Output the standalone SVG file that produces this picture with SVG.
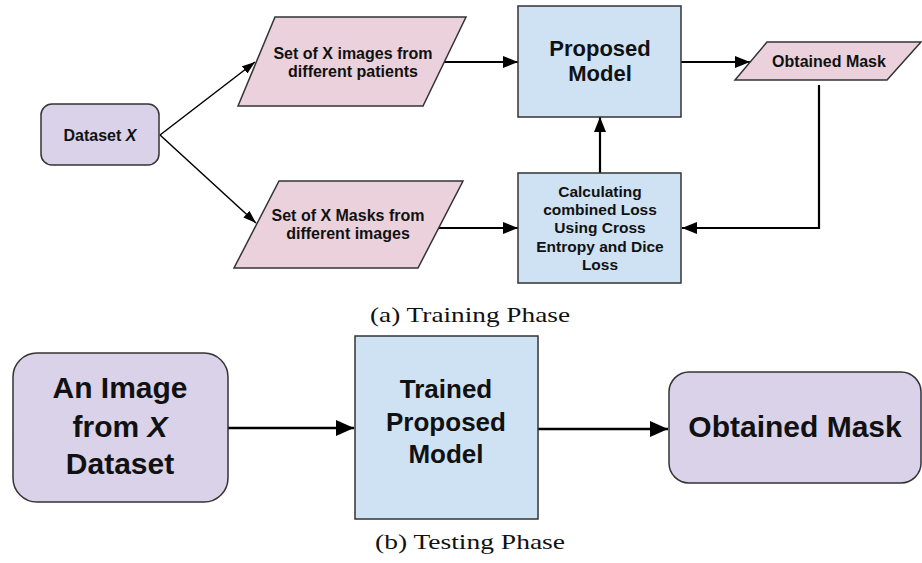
<svg xmlns="http://www.w3.org/2000/svg" width="922" height="563" viewBox="0 0 922 563">
<defs>
<style>
.pink{fill:#ead1dc;stroke:#333;stroke-width:1.5}
.purple{fill:#d9d2e9;stroke:#333;stroke-width:1.5}
.blue{fill:#cfe2f3;stroke:#333;stroke-width:1.5}
.t{font-family:"Liberation Sans",Arial,sans-serif;font-weight:bold;fill:#111;text-anchor:middle}
.cap{font-family:"Liberation Serif","Times New Roman",serif;font-size:21px;fill:#111;text-anchor:middle}
.c1{stroke:#000;stroke-width:1.5;fill:none}
.c2{stroke:#000;stroke-width:2.2;fill:none}
.c3{stroke:#000;stroke-width:2.5;fill:none}
</style>
<marker id="hs" viewBox="0 0 13 9" refX="13" refY="4.5" markerWidth="13" markerHeight="9" markerUnits="userSpaceOnUse" orient="auto"><path d="M0,0 L13,4.5 L0,9 z" fill="#000"/></marker>
<marker id="hm" viewBox="0 0 15 12" refX="15" refY="6" markerWidth="15" markerHeight="12" markerUnits="userSpaceOnUse" orient="auto"><path d="M0,0 L15,6 L0,12 z" fill="#000"/></marker>
<marker id="hl" viewBox="0 0 18 16" refX="18" refY="8" markerWidth="18" markerHeight="16" markerUnits="userSpaceOnUse" orient="auto"><path d="M0,0 L18,8 L0,16 z" fill="#000"/></marker>
</defs>
<rect width="922" height="563" fill="#fff"/>

<g id="connectors">
<line class="c1" x1="160" y1="135" x2="255" y2="62" marker-end="url(#hs)"/>
<line class="c1" x1="160" y1="135" x2="256" y2="223" marker-end="url(#hs)"/>
<line class="c2" x1="444" y1="62" x2="518" y2="62" marker-end="url(#hm)"/>
<line class="c2" x1="439" y1="228" x2="518" y2="228" marker-end="url(#hm)"/>
<line class="c2" x1="681" y1="62" x2="750" y2="62" marker-end="url(#hm)"/>
<line class="c2" x1="600" y1="173" x2="600" y2="117" marker-end="url(#hm)"/>
<polyline class="c2" points="819,85 819,228 682,228" marker-end="url(#hm)"/>
<line class="c3" x1="228" y1="428" x2="354" y2="428" marker-end="url(#hl)"/>
<line class="c3" x1="538" y1="429" x2="668" y2="429" marker-end="url(#hl)"/>
</g>

<g id="dataset">
<rect class="purple" x="41" y="104" width="118" height="61" rx="11"/>
<text class="t" x="100" y="141" font-size="16">Dataset <tspan font-style="italic">X</tspan></text>
</g>

<g id="images">
<polygon class="pink" points="275,17 466,17 423,106 238,106"/>
<text class="t" x="353" y="59" font-size="16">Set of X images from</text>
<text class="t" x="353" y="77" font-size="16">different patients</text>
</g>

<g id="masks">
<polygon class="pink" points="279,181 463,181 418,268 234,268"/>
<text class="t" x="348" y="221" font-size="16">Set of X Masks from</text>
<text class="t" x="348" y="239" font-size="16">different images</text>
</g>

<g id="proposed">
<rect class="blue" x="518" y="6" width="163" height="111"/>
<text class="t" x="600" y="56" font-size="22">Proposed</text>
<text class="t" x="600" y="81" font-size="22">Model</text>
</g>

<g id="loss">
<rect class="blue" x="518" y="173" width="163" height="110"/>
<text class="t" x="600" y="197" font-size="15.5">Calculating</text>
<text class="t" x="600" y="215" font-size="15.5">combined Loss</text>
<text class="t" x="600" y="233" font-size="15.5">Using Cross</text>
<text class="t" x="600" y="252" font-size="15.5">Entropy and Dice</text>
<text class="t" x="600" y="270" font-size="15.5">Loss</text>
</g>

<g id="obtained">
<polygon class="pink" points="767,42 921,42 887,80 735,80"/>
<text class="t" x="829" y="67" font-size="16">Obtained Mask</text>
</g>

<text class="cap" x="470" y="322" textLength="200" lengthAdjust="spacingAndGlyphs">(a) Training Phase</text>

<g id="test-image">
<rect class="purple" x="13" y="353" width="215" height="149" rx="24"/>
<text class="t" x="120" y="398" font-size="30">An Image</text>
<text class="t" x="120" y="437" font-size="30">from <tspan font-style="italic">X</tspan></text>
<text class="t" x="120" y="474" font-size="30">Dataset</text>
</g>

<g id="trained">
<rect class="blue" x="355" y="336" width="183" height="183"/>
<text class="t" x="446" y="398" font-size="26">Trained</text>
<text class="t" x="446" y="431" font-size="26">Proposed</text>
<text class="t" x="446" y="463" font-size="26">Model</text>
</g>

<g id="test-mask">
<rect class="purple" x="669" y="372" width="252" height="111" rx="20"/>
<text class="t" x="795" y="437" font-size="30">Obtained Mask</text>
</g>

<text class="cap" x="470" y="549" textLength="190" lengthAdjust="spacingAndGlyphs">(b) Testing Phase</text>
</svg>
